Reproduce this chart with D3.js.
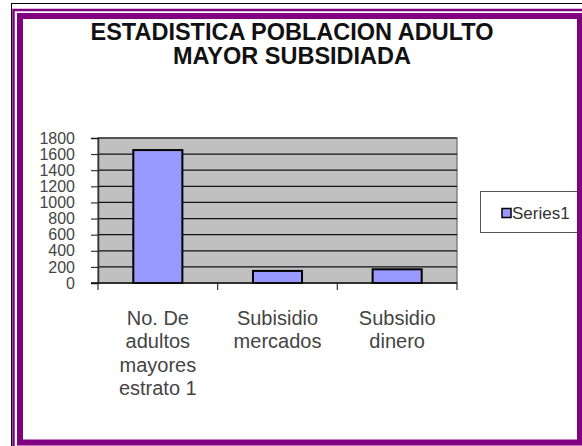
<!DOCTYPE html>
<html>
<head>
<meta charset="utf-8">
<script src="https://cdn.jsdelivr.net/npm/d3@7"></script>
<style>
  body { margin: 0; background: #fff; }
  svg { display: block; font-family: "Liberation Sans", Arial, sans-serif; }
</style>
</head>
<body>
<script>
// chart data
var titleLines = ["ESTADISTICA POBLACION ADULTO", "MAYOR SUBSIDIADA"];
var categories = ["No. De adultos mayores estrato 1", "Subisidio mercados", "Subsidio dinero"];
var categoryLabelLines = [["No. De", "adultos", "mayores", "estrato 1"], ["Subisidio", "mercados"], ["Subsidio", "dinero"]];
var series1 = [1650, 150, 170];
var yTicks = [0, 200, 400, 600, 800, 1000, 1200, 1400, 1600, 1800];
var seriesName = "Series1";

var w = 582, h = 446;
var plot = { left: 98, right: 457, top: 138, bottom: 283 };

var svg = d3.select("body").append("svg")
    .attr("width", w)
    .attr("height", h);

var x = d3.scaleBand()
    .domain(categories)
    .range([plot.left, plot.right])
    .padding(0);

var y = d3.scaleLinear()
    .domain([0, 1800])
    .range([plot.bottom, plot.top]);

//title
svg.append("text")
    .attr("x", 292)
    .attr("text-anchor", "middle")
    .attr("font-weight", "bold")
    .attr("font-size", 23.5)
    .attr("fill", "#111")
    .selectAll("tspan")
    .data(titleLines)
    .enter()
    .append("tspan")
    .attr("x", 292)
    .attr("y", function(d, i) { return 39.5 + i * 24; })
    .text(function(d) { return d; });

//plot area
svg.append("rect")
    .attr("x", plot.left)
    .attr("y", plot.top)
    .attr("width", plot.right - plot.left)
    .attr("height", plot.bottom - plot.top)
    .attr("fill", "#c0c0c0")
    .attr("stroke", "#808080")
    .attr("stroke-width", 1.5);

//gridlines
svg.append("g")
    .selectAll("line")
    .data(yTicks.slice(1))
    .enter()
    .append("line")
    .attr("x1", plot.left)
    .attr("x2", plot.right)
    .attr("y1", function(d) { return y(d); })
    .attr("y2", function(d) { return y(d); })
    .attr("stroke", "#111")
    .attr("stroke-width", 1.2);

//bars
svg.append("g")
    .selectAll("rect")
    .data(series1)
    .enter()
    .append("rect")
    .attr("x", function(d, i) { return x(categories[i]) + x.bandwidth() * 0.295; })
    .attr("width", x.bandwidth() * 0.41)
    .attr("y", function(d) { return y(d); })
    .attr("height", function(d) { return y(0) - y(d); })
    .attr("fill", "#9999ff")
    .attr("stroke", "#000")
    .attr("stroke-width", 2);

//y axis
var yAxis = d3.axisLeft(y)
    .tickValues(yTicks)
    .tickFormat(d3.format("d"))
    .tickSize(7)
    .tickPadding(16);

var gy = svg.append("g")
    .attr("transform", "translate(" + plot.left + ",0)")
    .call(yAxis);
gy.select(".domain").attr("stroke", "#333").attr("stroke-width", 1.5);
gy.selectAll(".tick line").attr("stroke", "#111");
gy.selectAll(".tick text")
    .attr("font-size", 16)
    .attr("font-family", "Liberation Sans, Arial, sans-serif")
    .attr("fill", "#444");

//x axis line and boundary ticks
svg.append("line")
    .attr("x1", plot.left - 7)
    .attr("x2", plot.right)
    .attr("y1", y(0))
    .attr("y2", y(0))
    .attr("stroke", "#111")
    .attr("stroke-width", 1.5);

var bounds = categories.map(function(c) { return x(c); }).concat([x.range()[1]]);
svg.append("g")
    .selectAll("line")
    .data(bounds)
    .enter()
    .append("line")
    .attr("x1", function(d) { return d; })
    .attr("x2", function(d) { return d; })
    .attr("y1", y(0))
    .attr("y2", y(0) + 7)
    .attr("stroke", "#333")
    .attr("stroke-width", 1.2);

//category labels
svg.append("g")
    .selectAll("text")
    .data(categoryLabelLines)
    .enter()
    .append("text")
    .attr("text-anchor", "middle")
    .attr("font-size", 20)
    .attr("fill", "#444")
    .each(function(lines, i) {
        var cx = x(categories[i]) + x.bandwidth() / 2;
        d3.select(this).selectAll("tspan")
            .data(lines)
            .enter()
            .append("tspan")
            .attr("x", cx)
            .attr("y", function(d, j) { return 325 + j * 23.3; })
            .text(function(d) { return d; });
    });

//legend
var legend = svg.append("g");
legend.append("rect")
    .attr("x", 480.5)
    .attr("y", 191.5)
    .attr("width", 110)
    .attr("height", 41)
    .attr("fill", "#fff")
    .attr("stroke", "#555")
    .attr("stroke-width", 1);
legend.append("rect")
    .attr("x", 502)
    .attr("y", 208.5)
    .attr("width", 9)
    .attr("height", 9)
    .attr("fill", "#9999ff")
    .attr("stroke", "#000")
    .attr("stroke-width", 1.5);
legend.append("text")
    .attr("x", 512)
    .attr("y", 219)
    .attr("font-size", 17)
    .attr("fill", "#333")
    .text(seriesName);

//frame
svg.append("line")
    .attr("x1", 11.5).attr("x2", 11.5)
    .attr("y1", 3).attr("y2", h)
    .attr("stroke", "#000").attr("stroke-width", 1);
svg.append("line")
    .attr("x1", 11).attr("x2", w)
    .attr("y1", 3.5).attr("y2", 3.5)
    .attr("stroke", "#000").attr("stroke-width", 1);
svg.append("rect")
    .attr("x", 13.5)
    .attr("y", 10)
    .attr("width", 580)
    .attr("height", 450)
    .attr("fill", "none")
    .attr("stroke", "#800080")
    .attr("stroke-width", 2.5);
svg.append("rect")
    .attr("x", 20)
    .attr("y", 16)
    .attr("width", 560)
    .attr("height", 426.5)
    .attr("fill", "none")
    .attr("stroke", "#800080")
    .attr("stroke-width", 6);
</script>
</body>
</html>
